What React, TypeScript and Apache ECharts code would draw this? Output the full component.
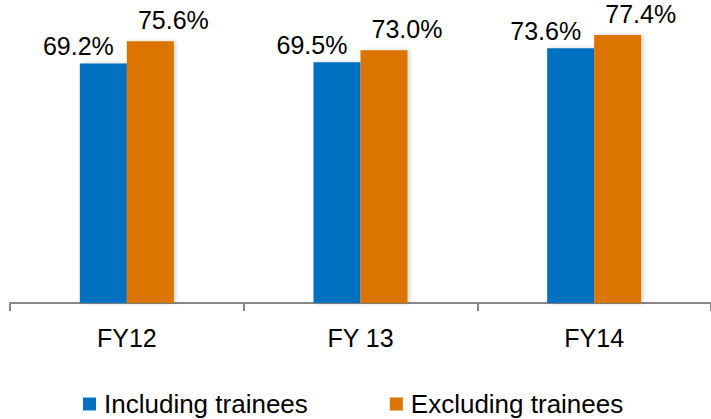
import React, { useEffect, useRef } from "react";
import * as echarts from "echarts";

// Fiscal years shown on the category axis
const categories = ["FY12", "FY 13", "FY14"];
// Utilisation, in percent
const includingTrainees = [69.2, 69.5, 73.6];
const excludingTrainees = [75.6, 73.0, 77.4];
const seriesNames = ["Including trainees", "Excluding trainees"];

const BLUE = "#0070C0";
const ORANGE = "#DB7400";
const FONT = "'Liberation Sans', Arial, sans-serif";

export default function App() {
  const ref = useRef<HTMLDivElement>(null);

  useEffect(() => {
    if (!ref.current) return;
    const chart = echarts.init(ref.current, undefined, { renderer: "svg" });

    const barShadow = {
      shadowColor: "rgba(0,0,0,0.18)",
      shadowBlur: 4,
      shadowOffsetX: 2,
      shadowOffsetY: 0,
    };

    chart.setOption({
      animation: false,
      backgroundColor: "#ffffff",
      grid: { left: 10, right: -9, top: 26, bottom: 116 },
      legend: {
        left: 78,
        top: 386,
        itemWidth: 13,
        itemHeight: 13,
        itemGap: 82,
        icon: "rect",
        textStyle: {
          fontFamily: FONT,
          fontSize: 26,
          color: "#000",
          padding: [0, 0, 0, 3],
        },
        data: seriesNames,
      },
      xAxis: {
        type: "category",
        data: categories,
        axisLine: { lineStyle: { color: "#878787", width: 2 } },
        axisTick: { show: true, length: 8, lineStyle: { color: "#878787", width: 2 } },
        axisLabel: {
          fontFamily: FONT,
          fontSize: 25,
          color: "#000",
          margin: 22,
        },
      },
      yAxis: {
        type: "value",
        min: 0,
        max: 80,
        show: false,
        splitLine: { show: false },
      },
      series: [
        {
          name: seriesNames[0],
          type: "bar",
          data: includingTrainees,
          barWidth: 47,
          barGap: "0%",
          itemStyle: { color: BLUE, ...barShadow },
          label: {
            show: true,
            position: "top",
            distance: 5,
            offset: [-25, 0],
            fontFamily: FONT,
            fontSize: 25,
            color: "#000",
            formatter: (p: any) => `${p.value.toFixed(1)}%`,
          },
        },
        {
          name: seriesNames[1],
          type: "bar",
          data: excludingTrainees,
          barWidth: 47,
          barGap: "0%",
          itemStyle: { color: ORANGE, ...barShadow },
          label: {
            show: true,
            position: "top",
            distance: 9,
            offset: [23, 0],
            fontFamily: FONT,
            fontSize: 25,
            color: "#000",
            formatter: (p: any) => `${p.value.toFixed(1)}%`,
          },
        },
      ],
    });

    return () => chart.dispose();
  }, []);

  return <div ref={ref} style={{ width: 711, height: 419, position: "absolute", left: 0, top: 0 }} />;
}
